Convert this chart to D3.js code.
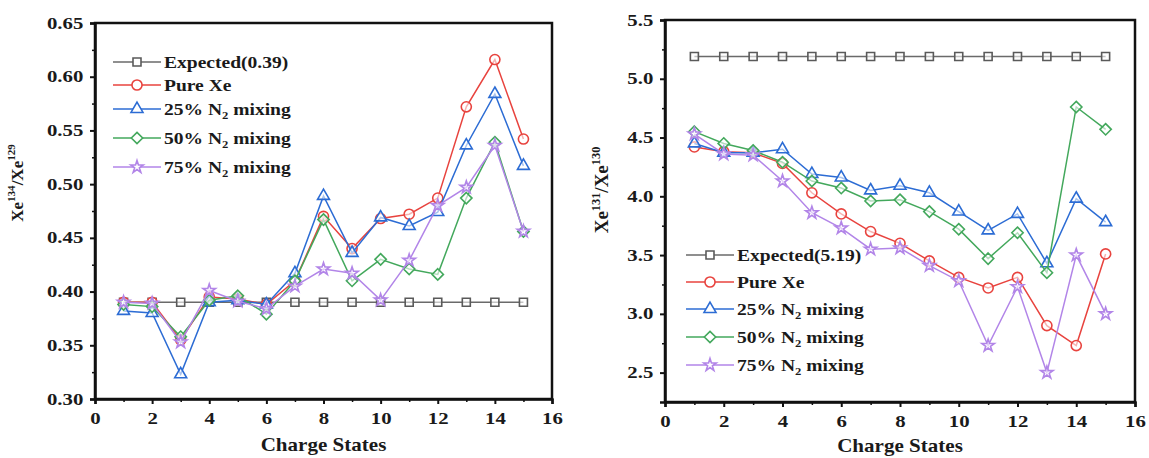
<!DOCTYPE html>
<html><head><meta charset="utf-8">
<script src="https://cdn.jsdelivr.net/npm/d3@7"></script>
<style>
body{margin:0;background:#fff;}
text{font-family:"Liberation Serif","Times New Roman",serif;font-weight:bold;fill:#1a1a1a;}
</style></head>
<body><svg id="c" width="1149" height="458"></svg>
<script>
const chargeStates = [1,2,3,4,5,6,7,8,9,10,11,12,13,14,15];
const seriesNames = ["Expected", "Pure Xe", "25% N2 mixing", "50% N2 mixing", "75% N2 mixing"];

// Left panel: Xe134/Xe129
const leftExpected = [0.39,0.39,0.39,0.39,0.39,0.39,0.39,0.39,0.39,0.39,0.39,0.39,0.39,0.39,0.39];
const leftPure  = [0.390,0.390,0.355,0.395,0.393,0.388,0.410,0.470,0.440,0.468,0.472,0.487,0.572,0.616,0.542];
const left25    = [0.382,0.380,0.323,0.390,0.392,0.388,0.417,0.489,0.436,0.469,0.461,0.474,0.536,0.584,0.517];
const left50    = [0.388,0.386,0.358,0.392,0.396,0.379,0.410,0.467,0.410,0.430,0.421,0.416,0.487,0.539,0.456];
const left75    = [0.390,0.389,0.353,0.401,0.391,0.384,0.405,0.421,0.417,0.392,0.429,0.480,0.497,0.536,0.456];

// Right panel: Xe131/Xe130
const rightExpected = [5.19,5.19,5.19,5.19,5.19,5.19,5.19,5.19,5.19,5.19,5.19,5.19,5.19,5.19,5.19];
const rightPure = [4.42,4.38,4.37,4.28,4.03,3.85,3.70,3.60,3.45,3.31,3.22,3.31,2.90,2.73,3.51];
const right25   = [4.45,4.37,4.37,4.40,4.19,4.16,4.05,4.09,4.03,3.87,3.71,3.85,3.43,3.98,3.78];
const right50   = [4.55,4.45,4.39,4.29,4.13,4.07,3.96,3.97,3.87,3.72,3.47,3.69,3.35,4.76,4.57];
const right75   = [4.53,4.36,4.35,4.13,3.86,3.73,3.55,3.56,3.41,3.28,2.73,3.23,2.50,3.50,3.00];

const leftYTicks = [0.30,0.35,0.40,0.45,0.50,0.55,0.60,0.65];
const rightYTicks = [2.5,3.0,3.5,4.0,4.5,5.0,5.5];
const xTicks = [0,2,4,6,8,10,12,14,16];

const colors = ["#5a5a5a","#e8433e","#2c6cd4","#43a85c","#b285e8"];
const lineColors = ["#6a6a6a","#e8433e","#2c6cd4","#43a85c","#b285e8"];
const symbolDiamondSq = {draw(ctx,size){const r=Math.sqrt(size/2);ctx.moveTo(0,-r);ctx.lineTo(r,0);ctx.lineTo(0,r);ctx.lineTo(-r,0);ctx.closePath();}};
const symbols = [d3.symbolSquare, d3.symbolCircle, d3.symbolTriangle, symbolDiamondSq, d3.symbolStar];
const symSizes = [64, 80, 62, 64, 48];

const svg = d3.select("#c");

function panel(cfg){
  const g = svg.append("g");
  const x = d3.scaleLinear().domain([0,16]).range([cfg.x0, cfg.x1]);
  const y = d3.scaleLinear().domain(cfg.yDomain).range([cfg.y0, cfg.y1]);

  g.append("rect").attr("x",cfg.x0).attr("y",cfg.y1).attr("width",cfg.x1-cfg.x0).attr("height",cfg.y0-cfg.y1)
    .attr("fill","none").attr("stroke","#111").attr("stroke-width",2.5);

  const xa = g.append("g").attr("transform",`translate(0,${cfg.y0})`)
    .call(d3.axisBottom(x).tickValues(xTicks).tickFormat(d3.format("d")).tickSize(5).tickPadding(9));
  xa.select(".domain").attr("stroke","#111").attr("stroke-width",2.5);
  xa.selectAll(".tick line").attr("stroke","#111").attr("stroke-width",2);
  xa.selectAll("text").attr("font-size",16).attr("fill","#1a1a1a").attr("transform","scale(1.3,1)");
  g.append("g").attr("transform",`translate(0,${cfg.y0})`)
    .call(d3.axisBottom(x).tickValues(d3.range(1,16,2)).tickFormat("").tickSize(3))
    .call(s=>{s.select(".domain").remove(); s.selectAll("line").attr("stroke","#111").attr("stroke-width",1.5);});

  const ya = g.append("g").attr("transform",`translate(${cfg.x0},0)`)
    .call(d3.axisLeft(y).tickValues(cfg.yTicks).tickFormat(d3.format(cfg.fmt)).tickSize(5).tickPadding(4));
  ya.select(".domain").attr("stroke","#111").attr("stroke-width",2.5);
  ya.selectAll(".tick line").attr("stroke","#111").attr("stroke-width",2);
  ya.selectAll("text").attr("font-size",16).attr("fill","#1a1a1a").attr("transform","scale(1.3,1)");
  g.append("g").attr("transform",`translate(${cfg.x0},0)`)
    .call(d3.axisLeft(y).tickValues(cfg.minor).tickFormat("").tickSize(3))
    .call(s=>{s.select(".domain").remove(); s.selectAll("line").attr("stroke","#111").attr("stroke-width",1.5);});

  cfg.series.forEach((vals,i)=>{
    const data = chargeStates.map((c,k)=>[c, vals[k]]);
    g.append("path").datum(data).attr("fill","none").attr("stroke",lineColors[i]).attr("stroke-width",1.5)
      .attr("d", d3.line().x(d=>x(d[0])).y(d=>y(d[1])));
    g.selectAll(null).data(data).enter().append("path")
      .attr("transform",d=>`translate(${x(d[0])},${y(d[1])})`)
      .attr("d", d3.symbol().type(symbols[i]).size(symSizes[i]))
      .attr("fill","#fff").attr("fill-opacity",0.6).attr("stroke",colors[i]).attr("stroke-width",1.6);
  });

  cfg.legendYs.forEach((ly,i)=>{
    const lg = g.append("g");
    lg.append("line").attr("x1",cfg.lx).attr("x2",cfg.lx+48).attr("y1",ly).attr("y2",ly)
      .attr("stroke",lineColors[i]).attr("stroke-width",1.5);
    lg.append("path").attr("transform",`translate(${cfg.lx+24},${ly})`)
      .attr("d", d3.symbol().type(symbols[i]).size(symSizes[i]))
      .attr("fill","#fff").attr("stroke",colors[i]).attr("stroke-width",1.6);
    const t = lg.append("text").attr("transform",`translate(${cfg.lx+51},${ly+6}) scale(1.15,1)`).attr("font-size",17);
    cfg.labels[i].forEach(part=>{
      const ts = t.append("tspan").text(part.t);
      if(part.sub){ ts.attr("font-size",11).attr("dy",4); }
      if(part.after){ ts.attr("dy",-4); }
    });
  });

  g.append("text").attr("transform",`translate(${(cfg.x0+cfg.x1)/2},${cfg.y0+cfg.titleDy}) scale(1.17,1)`)
    .attr("text-anchor","middle").attr("font-size",18).text("Charge States");
  const yt = g.append("text").attr("transform",`translate(${cfg.ytx},${cfg.yty}) rotate(-90)`)
    .attr("text-anchor","middle").attr("font-size",cfg.ytSize);
  yt.append("tspan").text("Xe");
  yt.append("tspan").attr("font-size",cfg.ytSize*0.65).attr("dy",-8).text(cfg.ySup1);
  yt.append("tspan").attr("dy",8).text("/Xe");
  yt.append("tspan").attr("font-size",cfg.ytSize*0.65).attr("dy",-8).text(cfg.ySup2);
}

function legendLabels(exp){
  return [
    [{t:`Expected(${exp})`}],
    [{t:"Pure Xe"}],
    [{t:"25% N"},{t:"2",sub:true},{t:" mixing",after:true}],
    [{t:"50% N"},{t:"2",sub:true},{t:" mixing",after:true}],
    [{t:"75% N"},{t:"2",sub:true},{t:" mixing",after:true}]
  ];
}

panel({x0:95,x1:552,y0:399,y1:23,yDomain:[0.30,0.65],yTicks:leftYTicks,fmt:".2f",
  minor:d3.range(0.325,0.65,0.05),
  series:[leftExpected,leftPure,left25,left50,left75],
  labels:legendLabels("0.39"), lx:113, legendYs:[62,85,109,138,167], ySup1:"134", ySup2:"129",
  titleDy:52, ytx:23, yty:183, ytSize:17});

panel({x0:665,x1:1135,y0:402,y1:20,yDomain:[2.25,5.5],yTicks:rightYTicks,fmt:".1f",
  minor:d3.range(2.75,5.5,0.5),
  series:[rightExpected,rightPure,right25,right50,right75],
  labels:legendLabels("5.19"), lx:686, legendYs:[255,282,309,337,365], ySup1:"131", ySup2:"130",
  titleDy:50, ytx:608, yty:190, ytSize:19});
</script></body></html>
